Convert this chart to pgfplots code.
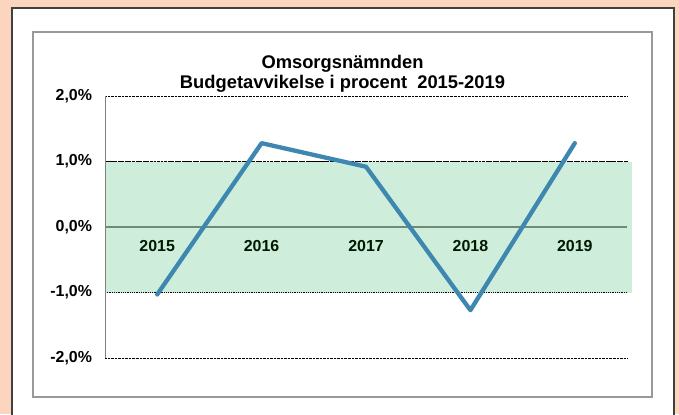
\documentclass[border=0pt]{standalone}
\usepackage{pgfplots}
\pgfplotsset{compat=1.18}
\usepackage{fontspec}
\setmainfont{Liberation Sans}
\definecolor{peach}{RGB}{251,213,190}
\definecolor{bandgreen}{RGB}{206,238,219}
\definecolor{zeroline}{RGB}{110,140,115}
\definecolor{linecol}{RGB}{62,135,176}
\begin{document}
\begin{tikzpicture}[x=1bp,y=1bp]
\useasboundingbox (0,0) rectangle (679,414);
\clip (0,0) rectangle (679,414);
\fill[peach] (0,0) rectangle (679,414);
\draw[fill=white, draw=black!75, line width=1.3bp] (12,-10) rectangle (674,406);
\draw[fill=white, draw=black!40, line width=1.5bp] (33,17) rectangle (652,382);
\node[anchor=base, font=\fontsize{18.4}{21}\selectfont\bfseries] at (342.5,346) {Omsorgsnämnden};
\node[anchor=base, font=\fontsize{18.4}{21}\selectfont\bfseries] at (342.5,326) {Budgetavvikelse i procent\ \ 2015-2019};
\begin{axis}[
  at={(105bp,56bp)}, anchor=south west,
  scale only axis, width=522bp, height=262bp,
  xmin=-0.5, xmax=4.5, ymin=-2, ymax=2,
  axis x line=none, axis y line=left,
  y axis line style={-, draw=black!50, line width=1bp},
  xtick={0,1,2,3,4},
  ytick={-2,-1,0,1,2},
  yticklabels={{-2,0\%},{-1,0\%},{0,0\%},{1,0\%},{2,0\%}},
  major tick length=0pt,
  yticklabel style={font=\fontsize{16}{19}\selectfont\bfseries, xshift=-9.5bp},
  ymajorgrids, grid style={densely dotted, black, line width=0.8bp},
  clip=false,
]
\fill[bandgreen] (axis cs:-0.5,-1) rectangle (axis cs:4.55,1);
\draw[densely dotted, black, line width=0.8bp] (axis cs:-0.5,-1) -- (axis cs:4.5,-1);
\draw[densely dotted, black, line width=0.8bp] (axis cs:-0.5,1) -- (axis cs:4.5,1);
\draw[zeroline, line width=1.4bp] (axis cs:-0.5,0) -- (axis cs:4.5,0);
\draw[black!50, line width=1bp] (axis cs:-0.5,-2) -- (axis cs:-0.5,2);
\node[font=\fontsize{16}{19}\selectfont\bfseries, text=black!90!green] at (axis cs:0,-0.29) {2015};
\node[font=\fontsize{16}{19}\selectfont\bfseries, text=black!90!green] at (axis cs:1,-0.29) {2016};
\node[font=\fontsize{16}{19}\selectfont\bfseries, text=black!90!green] at (axis cs:2,-0.29) {2017};
\node[font=\fontsize{16}{19}\selectfont\bfseries, text=black!90!green] at (axis cs:3,-0.29) {2018};
\node[font=\fontsize{16}{19}\selectfont\bfseries, text=black!90!green] at (axis cs:4,-0.29) {2019};
\addplot[linecol, line width=4.3bp, line join=round, line cap=round] coordinates {
 (0,-1.03) (1,1.28) (2,0.92) (3,-1.27) (4,1.28)
};
\end{axis}
\end{tikzpicture}
\end{document}
